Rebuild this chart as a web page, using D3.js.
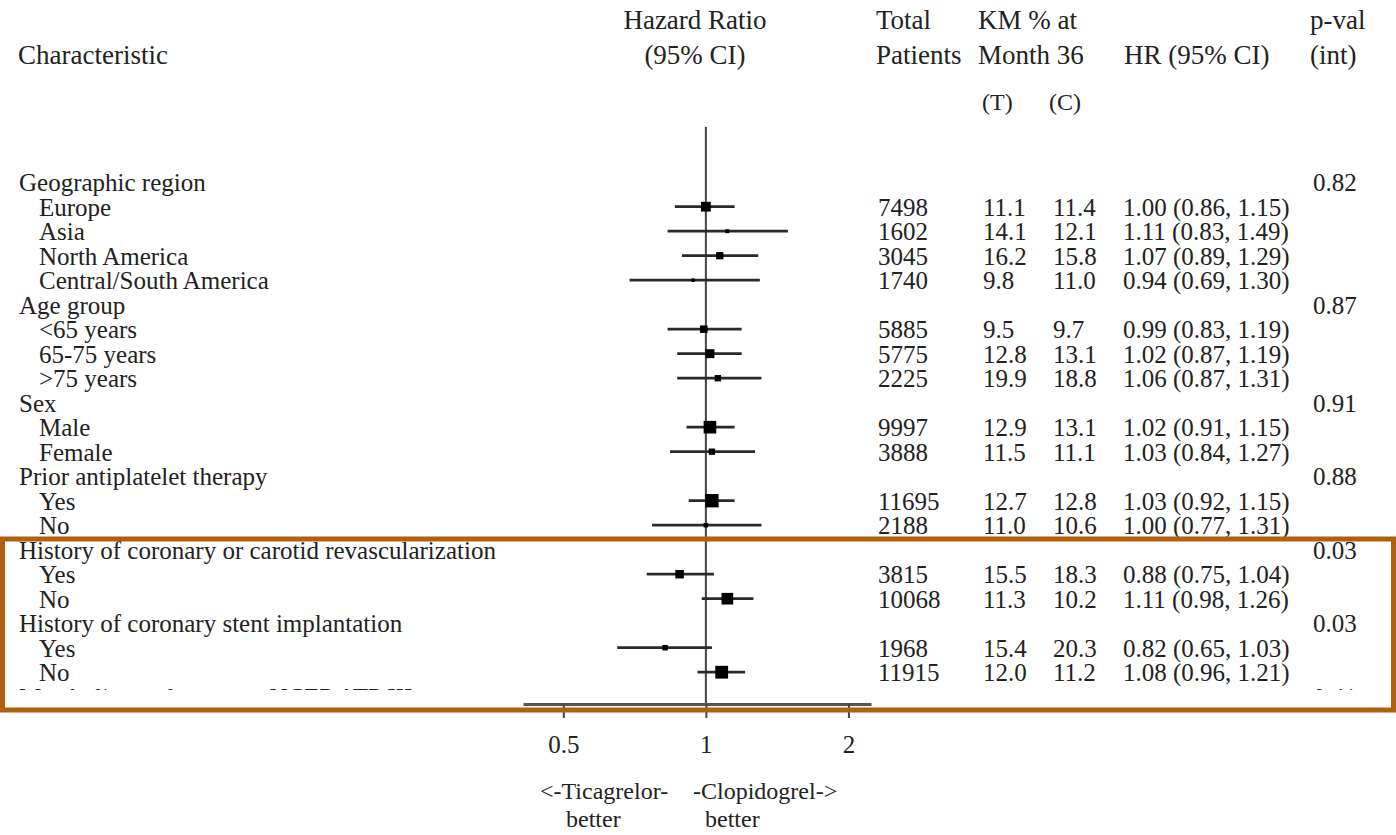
<!DOCTYPE html>
<html>
<head>
<meta charset="utf-8">
<script src="https://cdn.jsdelivr.net/npm/d3@7/dist/d3.min.js"></script>
<style>
  html, body { margin: 0; padding: 0; background: #fff; }
  svg { display: block; }
  text { font-family: "Liberation Serif", "Times New Roman", serif; fill: #222; }
</style>
</head>
<body>
<svg id="chart" width="1396" height="835"></svg>
<script>
// Subgroup rows of the forest plot (group headings carry no estimate)
const labels = [
  "Geographic region", "Europe", "Asia", "North America", "Central/South America",
  "Age group", "<65 years", "65-75 years", ">75 years",
  "Sex", "Male", "Female",
  "Prior antiplatelet therapy", "Yes", "No",
  "History of coronary or carotid revascularization", "Yes", "No",
  "History of coronary stent implantation", "Yes", "No",
  "Metabolic syndrome per NCEP ATP III"
];
const isGroup = [1,0,0,0,0, 1,0,0,0, 1,0,0, 1,0,0, 1,0,0, 1,0,0, 1];
const totals  = [null,7498,1602,3045,1740, null,5885,5775,2225, null,9997,3888, null,11695,2188, null,3815,10068, null,1968,11915, null];
const kmT     = [null,"11.1","14.1","16.2","9.8", null,"9.5","12.8","19.9", null,"12.9","11.5", null,"12.7","11.0", null,"15.5","11.3", null,"15.4","12.0", null];
const kmC     = [null,"11.4","12.1","15.8","11.0", null,"9.7","13.1","18.8", null,"13.1","11.1", null,"12.8","10.6", null,"18.3","10.2", null,"20.3","11.2", null];
const hr      = [null,1.00,1.11,1.07,0.94, null,0.99,1.02,1.06, null,1.02,1.03, null,1.03,1.00, null,0.88,1.11, null,0.82,1.08, null];
const lo      = [null,0.86,0.83,0.89,0.69, null,0.83,0.87,0.87, null,0.91,0.84, null,0.92,0.77, null,0.75,0.98, null,0.65,0.96, null];
const hi      = [null,1.15,1.49,1.29,1.30, null,1.19,1.19,1.31, null,1.15,1.27, null,1.15,1.31, null,1.04,1.26, null,1.03,1.21, null];
const pInt    = ["0.82",null,null,null,null, "0.87",null,null,null, "0.91",null,null, "0.88",null,null, "0.03",null,null, "0.03",null,null, "0.41"];
const axisTicks = [0.5, 1, 2];

const rows = labels.map((label, i) => ({
  i, label, group: !!isGroup[i], total: totals[i], kmT: kmT[i], kmC: kmC[i],
  hr: hr[i], lo: lo[i], hi: hi[i], p: pInt[i]
}));

const svg = d3.select("#chart");
const fmt2 = d3.format(".2f");

// Hazard ratio on a log2 scale
const x = d3.scaleLog().base(2).domain([0.411, 2.232]).range([523, 871]);
// Row positions
const y = d3.scaleLinear().domain([0, 1]).range([182.2, 206.7]);
// Marker side from precision (inverse log CI width)
const precision = d => 1 / Math.log(d.hi / d.lo);
const side = d3.scaleLinear().domain([1.5, 4.5]).range([3.2, 13.4]);

const axisY = 704;

// Table header
const header = svg.append("g").attr("font-size", 27);
const head = [
  ["Characteristic", 18, 64, "start"],
  ["Hazard Ratio", 695, 29, "middle"],
  ["(95% CI)", 695, 64, "middle"],
  ["Total", 876, 29, "start"],
  ["Patients", 876, 64, "start"],
  ["KM % at", 978, 29, "start"],
  ["Month 36", 978, 64, "start"],
  ["HR (95% CI)", 1124, 64, "start"],
  ["p-val", 1310, 29, "start"],
  ["(int)", 1310, 64, "start"]
];
header.selectAll("text").data(head).join("text")
  .attr("x", d => d[1]).attr("y", d => d[2])
  .attr("text-anchor", d => d[3]).text(d => d[0]);
svg.append("g").attr("font-size", 24)
  .selectAll("text").data([["(T)", 982], ["(C)", 1049]]).join("text")
  .attr("x", d => d[1]).attr("y", 110).text(d => d[0]);

// Table rows; the last row runs past the lower edge of the table
svg.append("defs").append("clipPath").attr("id", "tableClip")
  .append("rect").attr("x", 0).attr("y", 0).attr("width", 1396).attr("height", 690);

const body = svg.append("g").attr("font-size", 25).attr("clip-path", "url(#tableClip)");
const rowG = body.selectAll("g.row").data(rows).join("g")
  .attr("class", "row")
  .attr("transform", d => `translate(0,${y(d.i) + 9})`);

rowG.append("text").attr("x", d => d.group ? 19 : 39).text(d => d.label);
rowG.filter(d => d.total != null).append("text").attr("x", 878).text(d => d.total);
rowG.filter(d => d.kmT != null).append("text").attr("x", 983).text(d => d.kmT);
rowG.filter(d => d.kmC != null).append("text").attr("x", 1053).text(d => d.kmC);
rowG.filter(d => d.hr != null).append("text").attr("x", 1123)
  .text(d => `${fmt2(d.hr)} (${fmt2(d.lo)}, ${fmt2(d.hi)})`);
rowG.filter(d => d.p != null).append("text").attr("x", 1313).text(d => d.p);

// Reference line at HR = 1
svg.append("line")
  .attr("x1", x(1)).attr("x2", x(1))
  .attr("y1", 127).attr("y2", axisY)
  .attr("stroke", "#444").attr("stroke-width", 2);

// Confidence intervals and point estimates
const est = rows.filter(d => d.hr != null);
const marks = svg.append("g");
marks.selectAll("line.ci").data(est).join("line")
  .attr("class", "ci")
  .attr("x1", d => x(d.lo)).attr("x2", d => x(d.hi))
  .attr("y1", d => y(d.i)).attr("y2", d => y(d.i))
  .attr("stroke", "#2a2a2a").attr("stroke-width", 2.8);
marks.selectAll("rect.est").data(est).join("rect")
  .attr("class", "est")
  .attr("x", d => x(d.hr) - side(precision(d)) / 2)
  .attr("y", d => y(d.i) - side(precision(d)) / 2)
  .attr("width", d => side(precision(d)))
  .attr("height", d => side(precision(d)))
  .attr("fill", "#000");

// Log axis
const axis = d3.axisBottom(x).tickValues(axisTicks)
  .tickFormat(d => String(d)).tickSizeInner(14).tickSizeOuter(0).tickPadding(17);
const ax = svg.append("g").attr("transform", `translate(0,${axisY})`).call(axis);
ax.select(".domain").attr("stroke", "#555").attr("stroke-width", 3);
ax.selectAll(".tick line").attr("stroke", "#444").attr("stroke-width", 2);
ax.selectAll(".tick text").attr("font-size", 25)
  .attr("font-family", '"Liberation Serif", "Times New Roman", serif').attr("fill", "#222");

// Direction labels
const dir = svg.append("g").attr("font-size", 24);
dir.append("text").attr("x", 540).attr("y", 799).text("<-Ticagrelor-");
dir.append("text").attr("x", 566).attr("y", 827).text("better");
dir.append("text").attr("x", 693).attr("y", 799).text("-Clopidogrel->");
dir.append("text").attr("x", 705).attr("y", 827).text("better");

// Highlight frame around the revascularization and stent subgroups
svg.append("rect")
  .attr("x", 2.5).attr("y", 539).attr("width", 1391).attr("height", 171)
  .attr("fill", "none").attr("stroke", "#b0610f").attr("stroke-width", 5);
</script>
</body>
</html>
